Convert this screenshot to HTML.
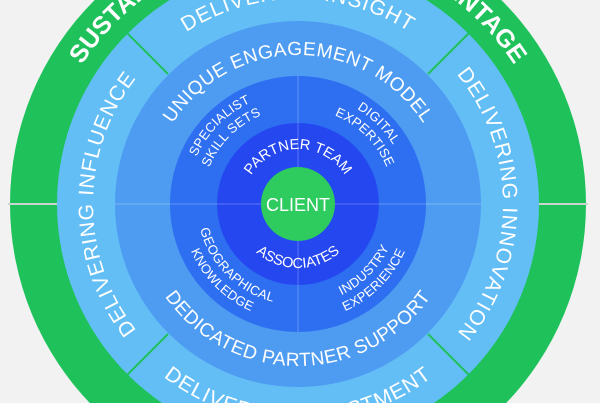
<!DOCTYPE html>
<html><head><meta charset="utf-8"><style>
html,body{margin:0;padding:0;background:#f2f2f2;width:600px;height:403px;overflow:hidden}
svg{display:block}
text{font-family:"Liberation Sans",sans-serif;fill:#fff;text-anchor:middle}
</style></head><body>
<svg width="600" height="403" viewBox="0 0 600 403">
<defs>
<path id="gT" d="M41,204 A257,257 0 0 1 555,204"/>
<path id="gB" d="M25,204 A273,273 0 0 0 571,204"/>
<path id="r2T" d="M93,204 A205,205 0 0 1 503,204"/>
<path id="r2B" d="M79,204 A219,219 0 0 0 517,204"/>
<path id="r2L" d="M298,409 A205,205 0 0 1 298,-1"/>
<path id="r2R" d="M298,-1 A205,205 0 0 1 298,409"/>
<path id="r3T" d="M149,204 A149,149 0 0 1 447,204"/>
<path id="r3B" d="M136,204 A162,162 0 0 0 460,204"/>
<path id="q1" d="M186,204 A112,112 0 0 1 410,204"/>
<path id="q2" d="M202,204 A96,96 0 0 1 394,204"/>
<path id="q3" d="M197,204 A101,101 0 0 0 399,204"/>
<path id="q4" d="M181,204 A117,117 0 0 0 415,204"/>
<path id="r5T" d="M243,204 A55,55 0 0 1 353,204"/>
<path id="r5B" d="M234,204 A64,64 0 0 0 362,204"/>
</defs>
<circle cx="298" cy="204" r="288" fill="#1fc25a"/>
<line x1="8" y1="204" x2="60" y2="204" stroke="#c9d6cf" stroke-width="2"/>
<line x1="536" y1="204" x2="588" y2="204" stroke="#c9d6cf" stroke-width="2"/>
<circle cx="298" cy="204" r="241" fill="#63bef6"/>
<g stroke="#1fc25a" stroke-width="2">
<line x1="168" y1="74" x2="127" y2="33"/>
<line x1="428" y1="74" x2="469" y2="33"/>
<line x1="168" y1="334" x2="127" y2="375"/>
<line x1="428" y1="334" x2="469" y2="375"/>
</g>
<circle cx="298" cy="204" r="183" fill="#4e9cf2"/>
<circle cx="298" cy="204" r="128" fill="#2d6ff0"/>
<circle cx="298" cy="204" r="81" fill="#2447ef"/>
<g stroke="#ffffff" stroke-opacity="0.25" stroke-width="1">
<line x1="115" y1="204" x2="481" y2="204"/>
<line x1="298" y1="76" x2="298" y2="332"/>
</g>
<circle cx="298" cy="204" r="37" fill="#2ecb5f"/>
<text x="298" y="211" font-size="18">CLIENT</text>
<g font-size="25" font-weight="bold">
<text><textPath href="#gT" startOffset="50%">SUSTAINABLE COMPETITIVE ADVANTAGE</textPath></text>
<text><textPath href="#gB" startOffset="50%">FUTURE PROOF RESULTS</textPath></text>
</g>
<g font-size="21" letter-spacing="1">
<text><textPath href="#r2T" startOffset="50%">DELIVERING INSIGHT</textPath></text>
<text><textPath href="#r2B" startOffset="50%">DELIVERING INVESTMENT</textPath></text>
<text><textPath href="#r2L" startOffset="50%">DELIVERING INFLUENCE</textPath></text>
<text><textPath href="#r2R" startOffset="50%">DELIVERING INNOVATION</textPath></text>
</g>
<g font-size="19" letter-spacing="0.5">
<text><textPath href="#r3T" startOffset="50%">UNIQUE ENGAGEMENT MODEL</textPath></text>
<text><textPath href="#r3B" startOffset="50%">DEDICATED PARTNER SUPPORT</textPath></text>
</g>
<g font-size="13" letter-spacing="0.3">
<text><textPath href="#q1" startOffset="25%">SPECIALIST</textPath></text>
<text><textPath href="#q2" startOffset="25%">SKILL SETS</textPath></text>
<text><textPath href="#q1" startOffset="75%">DIGITAL</textPath></text>
<text><textPath href="#q2" startOffset="75%">EXPERTISE</textPath></text>
<text><textPath href="#q3" startOffset="25%">GEOGRAPHICAL</textPath></text>
<text><textPath href="#q4" startOffset="25%">KNOWLEDGE</textPath></text>
<text><textPath href="#q3" startOffset="75%">INDUSTRY</textPath></text>
<text><textPath href="#q4" startOffset="75%">EXPERIENCE</textPath></text>
</g>
<g font-size="14.5">
<text><textPath href="#r5T" startOffset="50%">PARTNER TEAM</textPath></text>
<text><textPath href="#r5B" startOffset="50%">ASSOCIATES</textPath></text>
</g>
</svg>
</body></html>
